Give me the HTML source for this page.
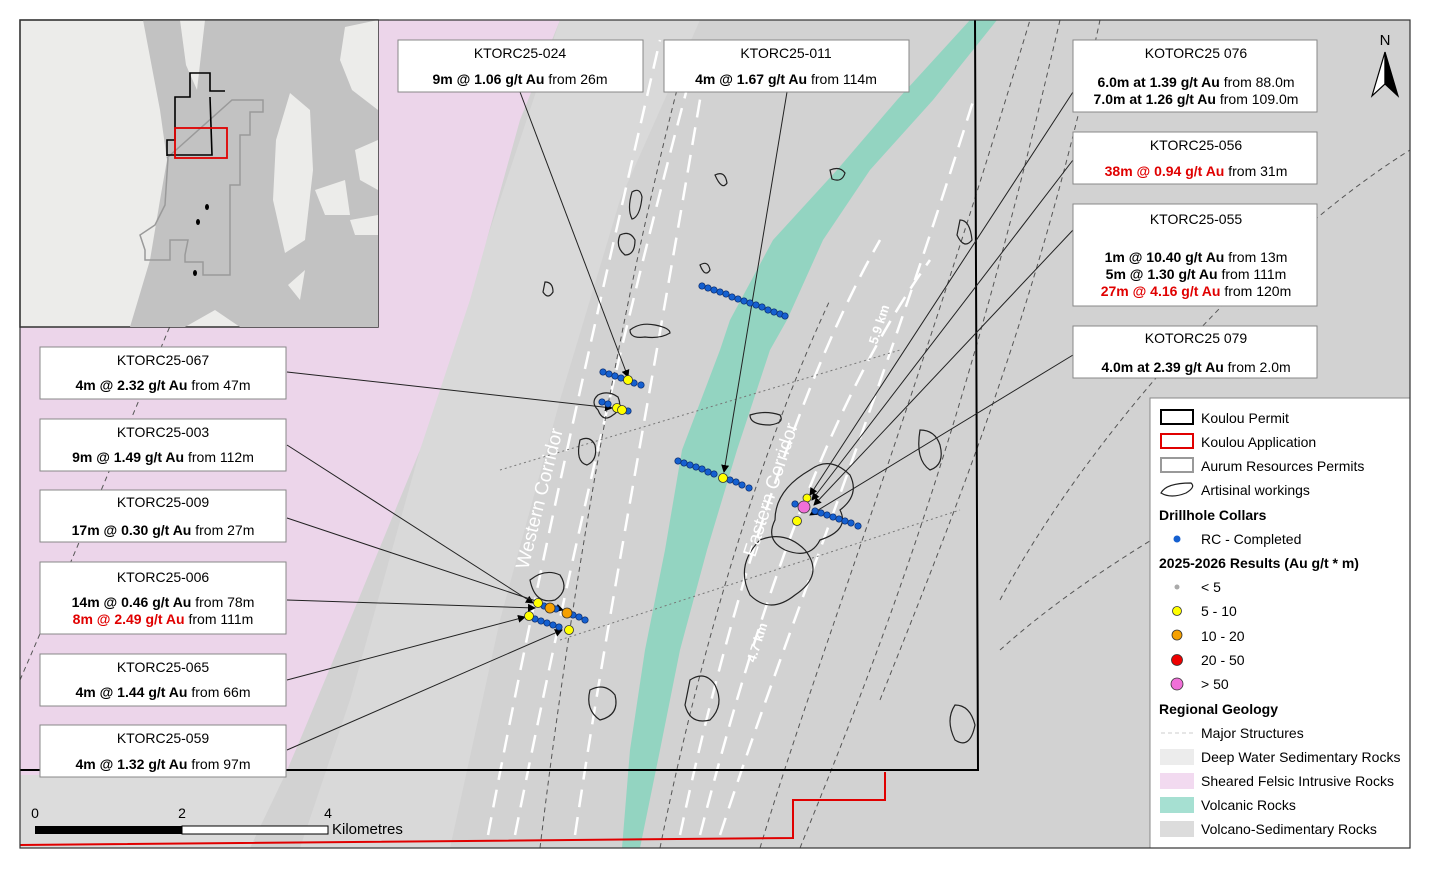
<!DOCTYPE html>
<html><head><meta charset="utf-8"><style>
html,body{margin:0;padding:0;background:#fff;}
svg{display:block;font-family:"Liberation Sans",sans-serif;}
.lb{font-size:14px;fill:#000;}
.b{font-weight:bold;}
.r{fill:#e00000;}
</style></head><body>
<svg width="1430" height="873" viewBox="0 0 1430 873" xmlns="http://www.w3.org/2000/svg">
<defs>
<marker id="ah" markerWidth="8" markerHeight="8" refX="7" refY="4" orient="auto" markerUnits="userSpaceOnUse"><path d="M0,0 L8,4 L0,8 z" fill="#000"/></marker>
<clipPath id="mc"><rect x="20" y="20" width="1390" height="828"/></clipPath>
</defs>
<rect width="1430" height="873" fill="#fff"/>
<g clip-path="url(#mc)">
<rect x="20" y="20" width="1390" height="828" fill="#d2d2d2"/>
<polygon points="560,20 700,20 620,200 560,400 500,620 450,848 300,848 350,700 420,450 480,260" fill="#d9d9d9"/>
<polygon points="20,20 560,20 520,120 470,300 420,450 350,620 300,740 285,775 20,775" fill="#ecd5ea"/>
<polygon points="20,775 285,775 250,848 20,848" fill="#dcdcdc"/>
<polygon points="970,20 997,20 933,100 870,170 823,240 787,320 770,350 737,450 707,550 680,650 660,750 640,848 622,848 630,750 645,650 665,550 682,450 720,350 730,320 773,240 837,170 897,100" fill="#93d4c1"/>
<g stroke="#fff" stroke-width="2.5" stroke-dasharray="18,10" fill="none">
<path d="M488,835 C540,560 600,300 660,40"/>
<path d="M515,835 C570,560 630,300 700,40"/>
<path d="M575,835 C610,600 650,400 710,40"/>
<path d="M680,835 C730,600 800,380 880,240"/>
<path d="M700,835 C760,600 830,400 930,260"/>
<path d="M720,835 C790,620 870,430 975,95"/>
</g>
<g stroke="#555" stroke-width="1" stroke-dasharray="5,4" fill="none">
<path d="M20,680 C120,450 200,250 300,20"/>
<path d="M540,848 C570,600 620,300 690,40"/>
<path d="M660,848 C700,650 760,450 830,300"/>
<path d="M760,848 C820,650 900,450 1030,20"/>
<path d="M800,848 C880,650 960,450 1060,20"/>
<path d="M880,700 C960,500 1040,300 1100,20"/>
<path d="M1000,600 C1080,450 1250,250 1410,150"/>
<path d="M1000,650 C1100,560 1250,480 1410,400"/>
</g>
<g stroke="#777" stroke-width="1" stroke-dasharray="2,3" fill="none">
<path d="M500,470 L900,350"/>
<path d="M560,640 L960,510"/>
</g>
<g stroke="#222" stroke-width="1.2" fill="none">
<path d="M630,330 q10,-8 25,-5 q15,3 15,8 q-10,6 -25,4 q-15,2 -15,-7z"/>
<path d="M598,395 q10,-5 20,2 q5,12 -5,18 q-10,8 -15,-5 q-8,-8 0,-15z"/>
<path d="M580,440 q10,-5 15,5 q3,15 -8,20 q-12,-3 -7,-25z"/>
<path d="M530,580 q15,-12 30,-5 q10,15 -5,25 q-20,5 -25,-20z"/>
<path d="M750,415 q15,-5 30,0 q5,8 -10,10 q-20,0 -20,-10z"/>
<path d="M810,470 q20,-15 40,5 q10,20 -10,35 q10,20 -20,30 q-10,20 -35,10 q-20,-10 -10,-30 q0,-30 35,-50z"/>
<path d="M760,540 q25,-10 45,10 q20,25 -10,45 q-25,20 -45,0 q-15,-30 10,-55z"/>
<path d="M690,680 q15,-10 25,5 q10,20 -5,35 q-20,5 -25,-15z"/>
<path d="M590,690 q15,-8 25,5 q5,20 -15,25 q-15,-10 -10,-30z"/>
<path d="M920,430 q15,0 20,15 q5,20 -10,25 q-15,-10 -10,-40z"/>
<path d="M955,705 q15,0 20,20 q-5,25 -20,15 q-10,-20 0,-35z"/>
<path d="M620,235 q10,-5 15,5 q0,15 -10,15 q-10,-8 -5,-20z"/>
<path d="M830,170 q10,-4 15,3 q-3,10 -13,6z"/>
<path d="M715,175 q10,-5 12,8 q-5,8 -12,-8z"/>
<path d="M545,282 q8,0 8,10 q-5,8 -10,0z"/>
<path d="M960,220 q10,0 12,20 q-8,10 -15,-5z"/>
<path d="M632,192 q8,-5 10,5 q-2,20 -10,22 q-5,-10 0,-27z"/>
<path d="M700,265 q8,-5 10,5 q-5,8 -10,-5z"/>
</g>
</g>
<polyline points="975,20 978,770 20,770" fill="none" stroke="#000" stroke-width="2"/>
<polyline points="20,845 793,838 793,800 885,800 885,772" fill="none" stroke="#e00000" stroke-width="2"/>
<rect x="20" y="20" width="358" height="307" fill="#ececea" stroke="#333" stroke-width="1.5"/>
<polygon points="143,20 378,20 378,327 240,327 215,310 185,327 130,327 150,260 160,200 167,160 160,110" fill="#c2c2c2"/>
<polygon points="180,20 205,20 197,90 186,65" fill="#ececea"/>
<polygon points="290,93 310,110 313,170 305,240 285,253 273,200 276,140" fill="#ececea"/>
<polygon points="345,27 378,20 378,110 352,90 340,60" fill="#ececea"/>
<polygon points="355,150 378,140 378,190 360,180" fill="#ececea"/>
<polygon points="315,190 345,180 350,215 325,215" fill="#ececea"/>
<polygon points="350,220 378,215 378,235 355,235" fill="#ececea"/>
<polygon points="288,285 305,270 300,300" fill="#ececea"/>
<g fill="none" stroke="#9a9a9a" stroke-width="1.5">
<polyline points="167,158 232,100 263,100 263,112 250,112 250,135 240,135 240,185 230,185 230,265 230,275 203,275 203,262 185,262 185,255 188,240 170,240 170,260 145,260 145,250 140,235 155,225 165,205 168,158"/>
</g>
<g fill="none" stroke="#000" stroke-width="1.6">
<polyline points="167,156 167,140 175,140 175,97 190,97 190,73 210,73 210,91 225,91"/>
<polyline points="210,97 212,155 167,155"/>
</g>
<rect x="175" y="128" width="52" height="30" fill="none" stroke="#e00000" stroke-width="1.8"/>
<g fill="#000"><ellipse cx="207" cy="207" rx="2" ry="3"/><ellipse cx="198" cy="222" rx="2" ry="3"/><ellipse cx="195" cy="273" rx="2" ry="3"/></g>
<g stroke="#222" stroke-width="1" marker-end="url(#ah)">
<line x1="520" y1="92" x2="628" y2="377"/>
<line x1="787" y1="92" x2="724" y2="472"/>
<line x1="287" y1="372" x2="612" y2="408"/>
<line x1="287" y1="445" x2="533" y2="603"/>
<line x1="287" y1="518" x2="563" y2="610"/>
<line x1="287" y1="600" x2="535" y2="608"/>
<line x1="287" y1="680" x2="525" y2="617"/>
<line x1="287" y1="750" x2="562" y2="630"/>
<line x1="1073" y1="92" x2="810" y2="495"/>
<line x1="1073" y1="160" x2="812" y2="500"/>
<line x1="1073" y1="230" x2="814" y2="505"/>
<line x1="1073" y1="355" x2="810" y2="515"/>
</g>
<g fill="#1560d0" stroke="#0a2a6a" stroke-width="0.7">
<circle cx="702" cy="286" r="3.2"/><circle cx="708" cy="288" r="3.2"/><circle cx="714" cy="290" r="3.2"/><circle cx="720" cy="292" r="3.2"/><circle cx="726" cy="294" r="3.2"/><circle cx="732" cy="297" r="3.2"/><circle cx="738" cy="299" r="3.2"/><circle cx="744" cy="301" r="3.2"/><circle cx="750" cy="303" r="3.2"/><circle cx="756" cy="305" r="3.2"/><circle cx="762" cy="307" r="3.2"/><circle cx="768" cy="310" r="3.2"/><circle cx="774" cy="312" r="3.2"/><circle cx="780" cy="314" r="3.2"/><circle cx="785" cy="316" r="3.2"/>
<circle cx="603" cy="372" r="3.2"/><circle cx="609" cy="374" r="3.2"/><circle cx="615" cy="376" r="3.2"/><circle cx="621" cy="378" r="3.2"/><circle cx="634" cy="383" r="3.2"/><circle cx="641" cy="385" r="3.2"/>
<circle cx="602" cy="402" r="3.2"/><circle cx="608" cy="404" r="3.2"/><circle cx="628" cy="411" r="3.2"/>
<circle cx="678" cy="461" r="3.2"/><circle cx="684" cy="463" r="3.2"/><circle cx="690" cy="465" r="3.2"/><circle cx="696" cy="467" r="3.2"/><circle cx="702" cy="469" r="3.2"/><circle cx="708" cy="472" r="3.2"/><circle cx="714" cy="474" r="3.2"/><circle cx="730" cy="480" r="3.2"/><circle cx="736" cy="482" r="3.2"/><circle cx="742" cy="485" r="3.2"/><circle cx="749" cy="488" r="3.2"/>
<circle cx="795" cy="504" r="3.2"/><circle cx="815" cy="511" r="3.2"/><circle cx="821" cy="513" r="3.2"/><circle cx="827" cy="515" r="3.2"/><circle cx="833" cy="517" r="3.2"/><circle cx="839" cy="519" r="3.2"/><circle cx="845" cy="521" r="3.2"/><circle cx="851" cy="523" r="3.2"/><circle cx="858" cy="526" r="3.2"/>
<circle cx="544" cy="606" r="3.2"/><circle cx="556" cy="609" r="3.2"/><circle cx="573" cy="615" r="3.2"/><circle cx="579" cy="617" r="3.2"/><circle cx="585" cy="620" r="3.2"/>
<circle cx="535" cy="619" r="3.2"/><circle cx="541" cy="621" r="3.2"/><circle cx="547" cy="623" r="3.2"/><circle cx="553" cy="625" r="3.2"/><circle cx="559" cy="627" r="3.2"/>
</g>
<g stroke="#333" stroke-width="0.8">
<circle cx="628" cy="380" r="4.5" fill="#ffff00"/><circle cx="617" cy="408" r="4.5" fill="#ffff00"/><circle cx="622" cy="410" r="4.5" fill="#ffff00"/>
<circle cx="723" cy="478" r="4.5" fill="#ffff00"/>
<circle cx="807" cy="498" r="4" fill="#ffff00"/><circle cx="797" cy="521" r="4.5" fill="#ffff00"/><circle cx="804" cy="507" r="6" fill="#f070d8"/>
<circle cx="538" cy="603" r="4.5" fill="#ffff00"/><circle cx="550" cy="608" r="5" fill="#f5a000"/><circle cx="567" cy="613" r="5" fill="#f5a000"/>
<circle cx="529" cy="616" r="4.5" fill="#ffff00"/><circle cx="569" cy="630" r="4.5" fill="#ffff00"/>
</g>
<text transform="translate(528,570) rotate(-76)" font-size="19" fill="#fff">Western Corridor</text>
<text transform="translate(755,558) rotate(-72)" font-size="19" fill="#fff">Eastern Corridor</text>
<text transform="translate(877,345) rotate(-72)" font-size="13" fill="#fff" font-weight="bold">5.9 km</text>
<text transform="translate(755,663) rotate(-72)" font-size="13" fill="#fff" font-weight="bold">4.7 km</text>
<g fill="#fff" stroke="#888" stroke-width="1">
<rect x="398" y="40" width="245" height="52"/>
<rect x="664" y="40" width="245" height="52"/>
<rect x="1073" y="40" width="244" height="72"/>
<rect x="1073" y="132" width="244" height="52"/>
<rect x="1073" y="204" width="244" height="102"/>
<rect x="1073" y="326" width="244" height="52"/>
<rect x="40" y="347" width="246" height="52"/>
<rect x="40" y="419" width="246" height="52"/>
<rect x="40" y="490" width="246" height="52"/>
<rect x="40" y="562" width="246" height="72"/>
<rect x="40" y="654" width="246" height="52"/>
<rect x="40" y="725" width="246" height="52"/>
</g>
<g class="lb" text-anchor="middle">
<text x="520" y="58">KTORC25-024</text><text x="520" y="84"><tspan class="b">9m @ 1.06 g/t Au</tspan> from 26m</text>
<text x="786" y="58">KTORC25-011</text><text x="786" y="84"><tspan class="b">4m @ 1.67 g/t Au</tspan> from 114m</text>
<text x="1196" y="58">KOTORC25 076</text><text x="1196" y="87"><tspan class="b">6.0m at 1.39 g/t Au</tspan> from 88.0m</text><text x="1196" y="104"><tspan class="b">7.0m at 1.26 g/t Au</tspan> from 109.0m</text>
<text x="1196" y="150">KTORC25-056</text><text x="1196" y="176"><tspan class="b r">38m @ 0.94 g/t Au</tspan> from 31m</text>
<text x="1196" y="224">KTORC25-055</text><text x="1196" y="262"><tspan class="b">1m @ 10.40 g/t Au</tspan> from 13m</text><text x="1196" y="279"><tspan class="b">5m @ 1.30 g/t Au</tspan> from 111m</text><text x="1196" y="296"><tspan class="b r">27m @ 4.16 g/t Au</tspan> from 120m</text>
<text x="1196" y="343">KOTORC25 079</text><text x="1196" y="372"><tspan class="b">4.0m at 2.39 g/t Au</tspan> from 2.0m</text>
<text x="163" y="365">KTORC25-067</text><text x="163" y="390"><tspan class="b">4m @ 2.32 g/t Au</tspan> from 47m</text>
<text x="163" y="437">KTORC25-003</text><text x="163" y="462"><tspan class="b">9m @ 1.49 g/t Au</tspan> from 112m</text>
<text x="163" y="507">KTORC25-009</text><text x="163" y="535"><tspan class="b">17m @ 0.30 g/t Au</tspan> from 27m</text>
<text x="163" y="582">KTORC25-006</text><text x="163" y="607"><tspan class="b">14m @ 0.46 g/t Au</tspan> from 78m</text><text x="163" y="624"><tspan class="b r">8m @ 2.49 g/t Au</tspan> from 111m</text>
<text x="163" y="672">KTORC25-065</text><text x="163" y="697"><tspan class="b">4m @ 1.44 g/t Au</tspan> from 66m</text>
<text x="163" y="743">KTORC25-059</text><text x="163" y="769"><tspan class="b">4m @ 1.32 g/t Au</tspan> from 97m</text>
</g>
<text x="1385" y="45" font-size="15" text-anchor="middle">N</text>
<polygon points="1385,52 1372,96 1385,84" fill="#fff" stroke="#000" stroke-width="1.2"/>
<polygon points="1385,52 1398,96 1385,84" fill="#000" stroke="#000" stroke-width="1.2"/>
<rect x="35" y="826" width="147" height="8" fill="#000"/>
<rect x="182" y="826" width="146" height="8" fill="#fff" stroke="#000" stroke-width="1"/>
<text x="35" y="818" font-size="14" text-anchor="middle">0</text>
<text x="182" y="818" font-size="14" text-anchor="middle">2</text>
<text x="328" y="818" font-size="14" text-anchor="middle">4</text>
<text x="332" y="834" font-size="15">Kilometres</text>
<rect x="1150" y="398" width="260" height="450" fill="#fff" stroke="#888" stroke-width="1"/>
<g font-size="14">
<rect x="1161" y="410" width="32" height="14" fill="none" stroke="#000" stroke-width="2"/><text x="1201" y="423">Koulou Permit</text>
<rect x="1161" y="434" width="32" height="14" fill="none" stroke="#e00000" stroke-width="2"/><text x="1201" y="447">Koulou Application</text>
<rect x="1161" y="458" width="32" height="14" fill="none" stroke="#999" stroke-width="2"/><text x="1201" y="471">Aurum Resources Permits</text>
<path d="M1161,493 q5,-10 30,-10 q5,4 -5,10 q-15,6 -25,0z" fill="none" stroke="#222" stroke-width="1.2"/><text x="1201" y="495">Artisinal workings</text>
<text x="1159" y="520" font-weight="bold">Drillhole Collars</text>
<circle cx="1177" cy="539" r="3.5" fill="#1560d0"/><text x="1201" y="544">RC - Completed</text>
<text x="1159" y="568" font-weight="bold">2025-2026 Results (Au g/t * m)</text>
<circle cx="1177" cy="587" r="2.5" fill="#aaa"/><text x="1201" y="592">&lt; 5</text>
<circle cx="1177" cy="611" r="4.5" fill="#ffff00" stroke="#333" stroke-width="0.8"/><text x="1201" y="616">5 - 10</text>
<circle cx="1177" cy="635" r="5" fill="#f5a000" stroke="#333" stroke-width="0.8"/><text x="1201" y="641">10 - 20</text>
<circle cx="1177" cy="660" r="5.5" fill="#ee0000" stroke="#333" stroke-width="0.8"/><text x="1201" y="665">20 - 50</text>
<circle cx="1177" cy="684" r="6" fill="#f070d8" stroke="#333" stroke-width="0.8"/><text x="1201" y="689">&gt; 50</text>
<text x="1159" y="714" font-weight="bold">Regional Geology</text>
<line x1="1161" y1="733" x2="1193" y2="733" stroke="#ccc" stroke-dasharray="4,3"/><text x="1201" y="738">Major Structures</text>
<rect x="1160" y="749" width="34" height="16" fill="#ececec"/><text x="1201" y="762">Deep Water Sedimentary Rocks</text>
<rect x="1160" y="773" width="34" height="16" fill="#f2daf0"/><text x="1201" y="786">Sheared Felsic Intrusive Rocks</text>
<rect x="1160" y="797" width="34" height="16" fill="#a6e0d2"/><text x="1201" y="810">Volcanic Rocks</text>
<rect x="1160" y="821" width="34" height="16" fill="#dcdcdc"/><text x="1201" y="834">Volcano-Sedimentary Rocks</text>
</g>
<rect x="20" y="20" width="1390" height="828" fill="none" stroke="#333" stroke-width="1.2"/>
</svg>
</body></html>
